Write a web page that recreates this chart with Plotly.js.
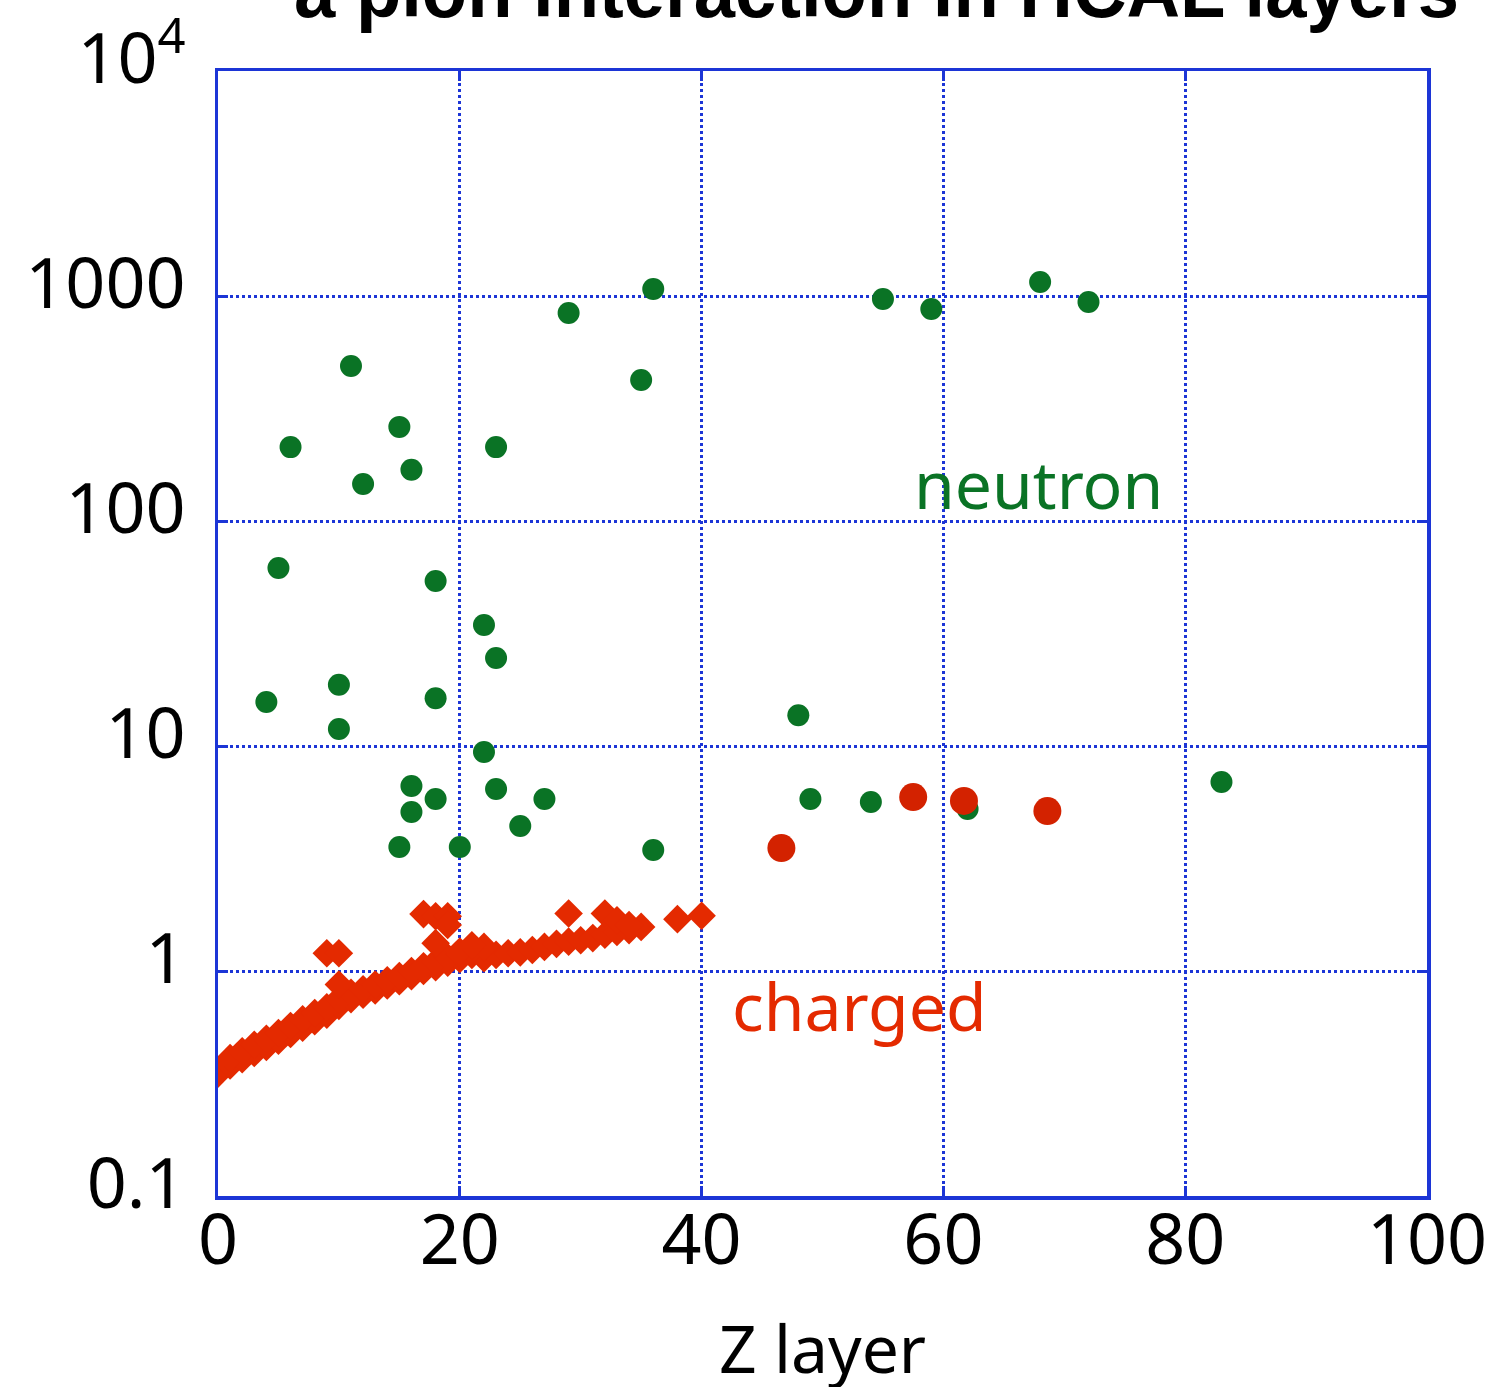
<!DOCTYPE html>
<html>
<head>
<meta charset="utf-8">
<script src="https://cdn.plot.ly/plotly-3.0.1.min.js"></script>
<style>
  html, body { margin: 0; padding: 0; background: #ffffff; }
  #chart { width: 1497px; height: 1387px; }
</style>
</head>
<body>
<div id="chart"></div>
<script>
// Energy deposited per HCAL layer (MeV) for a single pion interaction

// charged hits along the track (layer index, energy)
const chargedLayer = [
  0, 1, 2, 3, 4, 5, 6, 7, 8, 9, 10, 11, 12, 13, 14, 15, 16, 17, 18, 19, 20,
  21, 22, 23, 24, 25, 26, 27, 28, 29, 30, 31, 32, 33, 34, 35,
  1, 2, 3, 4, 5, 6, 7, 8, 9, 10, 11, 12, 13, 14, 15, 16, 17, 18, 19, 20, 21, 22,
  9, 10, 10, 17, 18, 19, 19, 18, 20, 21, 29, 32, 33, 34, 38, 40
];
const chargedE = [
  0.350, 0.380, 0.405, 0.432, 0.460, 0.490, 0.525, 0.560, 0.598, 0.640, 0.700,
  0.750, 0.785, 0.820, 0.862, 0.900, 0.948, 1.00, 1.04, 1.09, 1.13,
  1.18, 1.14, 1.18, 1.20, 1.21, 1.24, 1.28, 1.32, 1.35, 1.37, 1.40, 1.45, 1.49, 1.52, 1.57,
  0.41, 0.44, 0.47, 0.50, 0.53, 0.57, 0.61, 0.65, 0.69, 0.75, 0.80, 0.83, 0.87,
  0.91, 0.95, 1.00, 1.05, 1.10, 1.15, 1.19, 1.24, 1.28,
  1.20, 1.20, 0.87, 1.79, 1.75, 1.75, 1.60, 1.33, 1.22, 1.30, 1.80, 1.80, 1.68, 1.60, 1.70, 1.76
];

// larger charged clusters deeper in the calorimeter
const chargedClusterLayer = [46.6, 57.5, 61.7, 68.6];
const chargedClusterE = [3.52, 5.93, 5.70, 5.14];

// neutron hits
const neutronLayer = [
  4, 5, 6, 10, 10, 11, 12, 15, 15, 16, 16, 16, 18, 18, 18, 20, 22, 22, 23, 23, 23,
  25, 27, 29, 35, 36, 36, 48, 49, 54, 55, 59, 62, 68, 72, 83
];
const neutronE = [
  15.7, 61.8, 213, 18.7, 11.9, 489, 146, 262, 3.56, 169, 6.64, 5.09, 54.1, 16.3, 5.81,
  3.56, 34.5, 9.4, 213, 24.6, 6.44, 4.41, 5.81, 840, 423, 1075, 3.45, 13.7, 5.81,
  5.64, 970, 875, 5.25, 1154, 940, 6.92
];

// axis ticks
const xTicks = [0, 20, 40, 60, 80, 100];
const yTicks = [0.1, 1, 10, 100, 1000, 10000];
const yTickText = ['0.1', '1', '10', '100', '1000', '10<sup>4</sup>'];

const blue = '#1c35d6';
const green = '#0a7325';
const red = '#e42a00';
const redDark = '#d32200';
const tickFont = { family: 'Noto Sans, Liberation Sans, sans-serif', size: 70, color: '#000000' };

const traces = [
  {
    x: neutronLayer, y: neutronE, type: 'scatter', mode: 'markers', name: 'neutron',
    marker: { symbol: 'circle', size: 22, color: green, line: { width: 0 } }
  },
  {
    x: chargedLayer, y: chargedE, type: 'scatter', mode: 'markers', name: 'charged',
    marker: { symbol: 'diamond', size: 22, color: red, line: { width: 0 } }
  },
  {
    x: chargedClusterLayer, y: chargedClusterE, type: 'scatter', mode: 'markers', name: 'charged cluster',
    marker: { symbol: 'circle', size: 28, color: redDark, line: { width: 0 } }
  }
];

const layout = {
  width: 1497,
  height: 1387,
  paper_bgcolor: '#ffffff',
  plot_bgcolor: '#ffffff',
  showlegend: false,
  margin: { l: 218, r: 70, t: 71, b: 191 },
  xaxis: {
    range: [0, 100],
    tickvals: xTicks,
    ticktext: xTicks.map(String),
    tickfont: tickFont,
    ticklabelstandoff: -20,
    ticks: 'inside', ticklen: 10, tickwidth: 3, tickcolor: blue,
    showline: true, linecolor: blue, linewidth: 3.5, mirror: 'ticks',
    showgrid: true, gridcolor: blue, gridwidth: 3, griddash: 'dot',
    zeroline: false
  },
  yaxis: {
    type: 'log',
    range: [-1, 4],
    tickvals: yTicks,
    ticktext: yTickText,
    tickfont: tickFont,
    ticklabelstandoff: 15,
    ticklabelshift: -13,
    ticks: 'inside', ticklen: 10, tickwidth: 3, tickcolor: blue,
    showline: true, linecolor: blue, linewidth: 3.5, mirror: 'ticks',
    showgrid: true, gridcolor: blue, gridwidth: 3, griddash: 'dot',
    zeroline: false
  },
  annotations: [
    {
      text: 'a pion interaction in HCAL layers',
      xref: 'paper', yref: 'paper', x: 0.545, y: 1, xanchor: 'center', yanchor: 'bottom',
      yshift: 35, showarrow: false,
      font: { family: 'Liberation Sans, Arial, sans-serif', size: 78, color: '#000000', weight: 'bold' }
    },
    {
      // x-axis caption
      text: 'Z layer',
      xref: 'paper', yref: 'paper', x: 0.5, y: 0, xanchor: 'center', yanchor: 'middle',
      yshift: -151, showarrow: false,
      font: { family: 'Noto Sans, Liberation Sans, sans-serif', size: 66, color: '#000000' }
    },
    {
      text: 'neutron', x: 67.9, y: 2.17, xref: 'x', yref: 'y', showarrow: false,
      font: { family: 'Noto Sans, Liberation Sans, sans-serif', size: 66, color: green }
    },
    {
      text: 'charged', x: 53.1, y: -0.151, xref: 'x', yref: 'y', showarrow: false,
      font: { family: 'Noto Sans, Liberation Sans, sans-serif', size: 66, color: red }
    }
  ]
};

Plotly.newPlot('chart', traces, layout, { staticPlot: true, displayModeBar: false }).then(function (gd) {
  // the heading is set in a condensed face: squeeze it to its span
  const head = gd.querySelector('.annotation[data-index="0"] text');
  if (head) {
    head.setAttribute('textLength', '1165');
    head.setAttribute('lengthAdjust', 'spacingAndGlyphs');
  }
});
</script>
</body>
</html>
